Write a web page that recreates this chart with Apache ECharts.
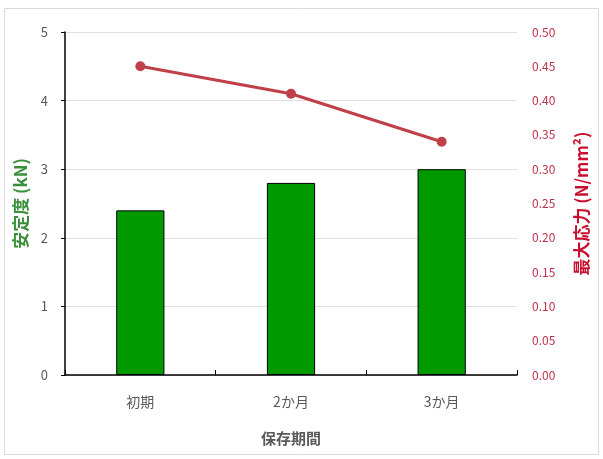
<!DOCTYPE html>
<html><head><meta charset="utf-8">
<script src="https://cdn.jsdelivr.net/npm/echarts@6/dist/echarts.min.js"></script>
<style>html,body{margin:0;padding:0;background:#fff}#c{width:603px;height:459px}</style>
</head><body><div id="c"></div>
<script>
var categories = ['初期', '2か月', '3か月'];
var stability = [2.4, 2.8, 3.0];
var maxStress = [0.45, 0.41, 0.34];
var font = '"Noto Sans CJK JP","Noto Sans",sans-serif';
var chart = echarts.init(document.getElementById('c'));
chart.setOption({
  animation: false,
  textStyle: { fontFamily: font },
  graphic: [{ type: 'rect', shape: { x: 4.5, y: 8.5, width: 594, height: 446 }, style: { fill: 'none', stroke: '#d9d9d9', lineWidth: 1 } }],
  grid: { left: 65, right: 86, top: 32, bottom: 84 },
  xAxis: {
    type: 'category', data: categories,
    name: '保存期間', nameLocation: 'middle', nameGap: 56,
    nameTextStyle: { fontSize: 15, fontWeight: 'bold', color: '#595959', fontFamily: font },
    axisLine: { lineStyle: { color: '#000', width: 1.5 } },
    axisTick: { show: true, inside: true, length: 5, lineStyle: { color: '#000' } },
    axisLabel: { fontSize: 14, color: '#595959', margin: 20, fontFamily: font }
  },
  yAxis: [{
    type: 'value', min: 0, max: 5, interval: 1,
    name: '安定度 (kN)', nameLocation: 'middle', nameRotate: 90, nameGap: 36,
    nameTextStyle: { fontSize: 17, color: '#3a8f3a', fontWeight: 'bold', fontFamily: font },
    axisLine: { show: true, lineStyle: { color: '#000', width: 1.5 } },
    axisTick: { show: true, length: 4, lineStyle: { color: '#000' } },
    axisLabel: { fontSize: 13, color: '#595959', margin: 17 },
    splitLine: { lineStyle: { color: '#e0e0e0' } }
  }, {
    type: 'value', min: 0, max: 0.5, interval: 0.05,
    name: '最大応力 (N/mm²)', nameLocation: 'middle', nameRotate: 90, nameGap: 56,
    nameTextStyle: { fontSize: 17, color: '#c8102e', fontWeight: 'bold', fontFamily: font },
    axisLine: { show: false },
    axisTick: { show: false },
    axisLabel: { fontSize: 12, color: '#c0304a', margin: 15, formatter: function (v) { return v.toFixed(2); } },
    splitLine: { show: false }
  }],
  series: [{
    type: 'bar', data: stability, yAxisIndex: 0, barWidth: '32%',
    itemStyle: { color: '#009900', borderColor: '#000', borderWidth: 1 }
  }, {
    type: 'line', data: maxStress, yAxisIndex: 1,
    symbol: 'circle', symbolSize: 10,
    lineStyle: { color: '#c0404a', width: 3 },
    itemStyle: { color: '#c0404a' }
  }]
});
</script></body></html>
